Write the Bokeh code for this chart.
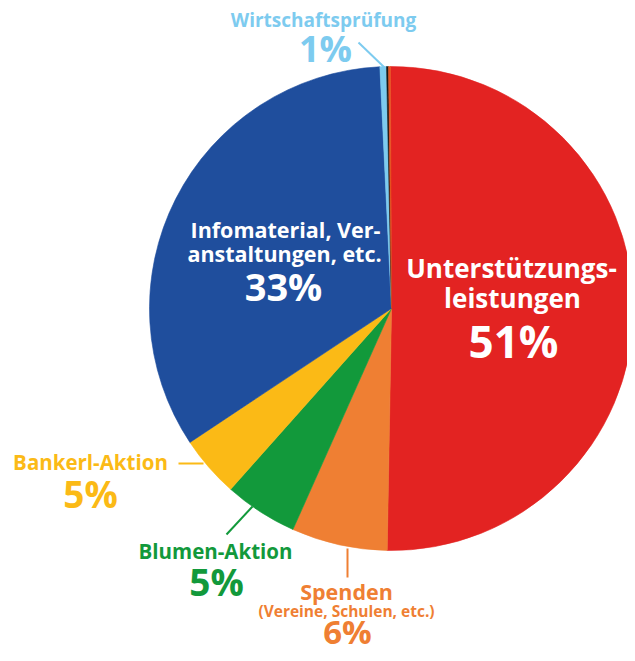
import math
from bokeh.plotting import figure
from bokeh.models import Range1d, ColumnDataSource
from bokeh.core.properties import value
from bokeh.embed import file_html
from bokeh.resources import INLINE

# ---- data (percent shares, clockwise from the top) ----
categories = ["Unterstützungsleistungen", "Spenden", "Blumen-Aktion", "Bankerl-Aktion",
              "Infomaterial, Veranstaltungen, etc.", "Wirtschaftsprüfung", "Sonstiges A", "Sonstiges B"]
shares = [50.4, 6.4, 4.9, 4.1, 33.6, 0.44, 0.13, 0.13]
colors = ["#E32322", "#EF7F33", "#12993B", "#FBBA16", "#1F4E9D", "#7DCBEF", "#1A1A1A", "#E8501E"]
pct_labels = ["51%", "6%", "5%", "5%", "33%", "1%"]

W, H = 627, 653
PAGE_H = 661


def Y(py):
    return PAGE_H - py


p = figure(width=W, height=H, output_backend="svg", toolbar_location=None,
           x_range=Range1d(0, W), y_range=Range1d(PAGE_H - H, PAGE_H),
           min_border=0)
p.axis.visible = False
p.grid.visible = False
p.outline_line_color = None
p.background_fill_color = "white"
p.border_fill_color = "white"

cx, cy, R = 391, 308, 242
start_deg = -0.24
total = sum(shares)
starts, ends = [], []
acc = start_deg
for s in shares:
    a0 = acc
    a1 = acc + s / total * 360.0
    starts.append(math.radians(90 - a0))
    ends.append(math.radians(90 - a1))
    acc = a1

src = ColumnDataSource(dict(start=starts, end=ends, color=colors,
                            x=[cx] * len(shares), y=[Y(cy)] * len(shares)))
p.wedge(x="x", y="y", radius=R, start_angle="start", end_angle="end", direction="clock",
        fill_color="color", line_color="color", line_width=0.6, source=src)

FONT = value("Open Sans")
SHIFT = 0.38


def label(x, py, txt, size, color):
    p.text(x=[x], y=[Y(py - SHIFT * size)], text=[txt], text_font=FONT, text_font_style="bold",
           text_font_size=f"{size}px", text_color=color, text_align="center",
           text_baseline="alphabetic")


# leader lines
p.segment(x0=[358], y0=[Y(42)], x1=[384], y1=[Y(67)], line_color="#7DCBEF", line_width=2)
p.segment(x0=[178], y0=[Y(463)], x1=[203], y1=[Y(463)], line_color="#FBBA16", line_width=2)
p.segment(x0=[226], y0=[Y(534)], x1=[252], y1=[Y(506)], line_color="#12993B", line_width=2)
p.segment(x0=[347], y0=[Y(548)], x1=[347], y1=[Y(577)], line_color="#EF7F33", line_width=2)

WHITE = "white"
# red slice
label(511, 277, "Unterstützungs-", 26, WHITE)
label(512, 307, "leistungen", 26, WHITE)
label(513, 357, pct_labels[0], 44, WHITE)
# blue slice
label(285, 237, "Infomaterial, Ver-", 21.5, WHITE)
label(284, 261, "anstaltungen, etc.", 21.5, WHITE)
label(283, 300, pct_labels[4], 38, WHITE)
# outside labels
label(323, 27, "Wirtschaftsprüfung", 19, "#7DCBEF")
label(325, 62, pct_labels[5], 36, "#7DCBEF")
label(90, 469, "Bankerl-Aktion", 20.5, "#FBBA16")
label(90, 507, pct_labels[3], 37, "#FBBA16")
label(215, 558, "Blumen-Aktion", 20.5, "#12993B")
label(216, 595, pct_labels[2], 37, "#12993B")
label(346, 599, "Spenden", 21.5, "#EF7F33")
label(346, 616, "(Vereine, Schulen, etc.)", 15.5, "#EF7F33")
label(347, 644, pct_labels[1], 33, "#EF7F33")

open("out.html", "w").write(file_html(p, INLINE))
